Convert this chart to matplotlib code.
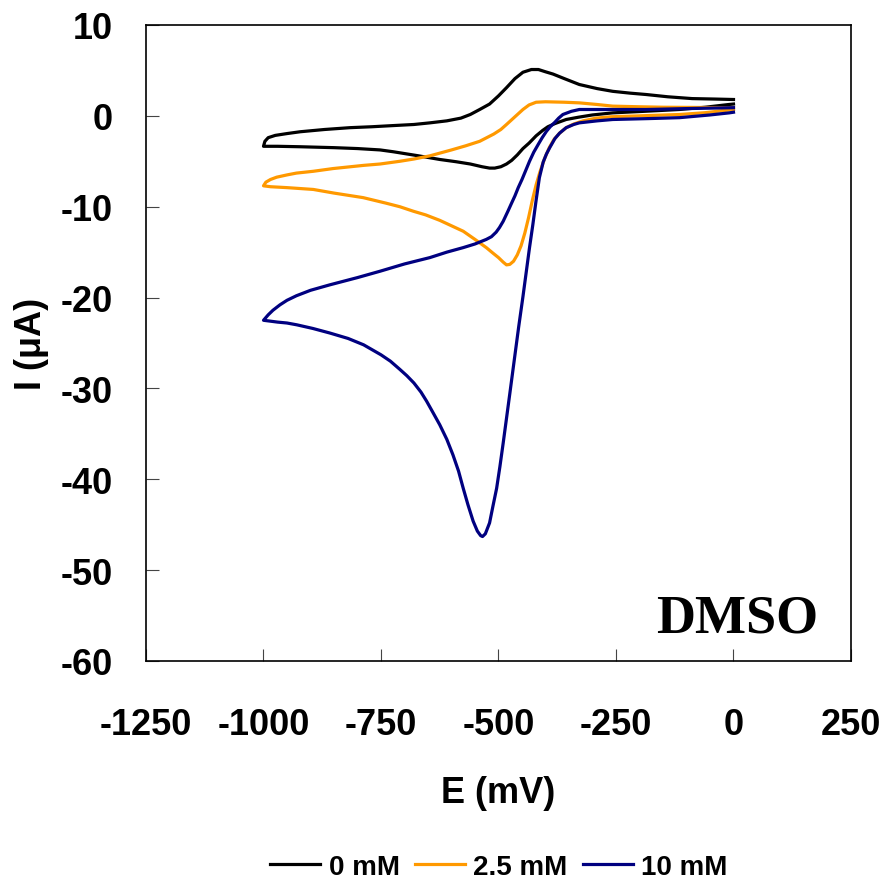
import matplotlib
matplotlib.use("Agg")
import matplotlib.pyplot as plt

# cyclic voltammograms in DMSO
# E in mV, I in uA; each list is one closed scan loop
e_0mM = [0, -10, -60, -115, -190, -257, -300, -330, -356, -380, -395, -406, -420,
         -435, -448, -460, -472, -483, -495, -508, -519, -535, -560, -590, -625,
         -670, -724, -752, -800, -850, -922, -970, -1000,
         -997, -990, -975, -950, -922, -870, -816, -770, -724, -680, -646, -610,
         -580, -560, -540, -519, -500, -483, -465, -448, -430, -415, -400, -384,
         -360, -328, -290, -257, -220, -186, -140, -88, -40, 0]
i_0mM = [1.3, 1.25, 0.95, 0.7, 0.5, 0.33, 0.1, -0.15, -0.4, -0.85, -1.2, -1.6, -2.2,
         -3.0, -3.6, -4.3, -4.9, -5.3, -5.6, -5.75, -5.75, -5.6, -5.3, -5.05, -4.8,
         -4.4, -3.95, -3.75, -3.6, -3.5, -3.4, -3.35, -3.35,
         -2.8, -2.4, -2.15, -1.95, -1.75, -1.5, -1.3, -1.2, -1.07, -0.95, -0.77, -0.55,
         -0.25, 0.15, 0.7, 1.3, 2.2, 3.1, 4.1, 4.8, 5.1, 5.1, 4.85, 4.6,
         4.1, 3.45, 3.0, 2.7, 2.5, 2.35, 2.1, 1.9, 1.85, 1.8]

e_2p5mM = [0, -60, -115, -200, -260, -292, -320, -340, -356, -370, -382, -392, -402,
           -412, -420, -428, -436, -444, -452, -460, -468, -476, -483, -490, -500,
           -512, -526, -550, -575, -600, -625, -655, -681, -710, -740, -788, -850,
           -894, -950, -985, -1000,
           -995, -985, -972, -950, -930, -894, -852, -787, -752, -710, -680, -646,
           -600, -570, -540, -510, -495, -483, -465, -448, -435, -420, -400, -360,
           -328, -290, -257, -200, -150, 0]
i_2p5mM = [0.7, 0.35, 0.15, 0.0, -0.1, -0.25, -0.55, -0.9, -1.3, -1.9, -2.6, -3.5, -4.7,
           -6.2, -7.6, -9.3, -11.2, -12.9, -14.3, -15.3, -16.0, -16.35, -16.4, -16.1, -15.6,
           -15.1, -14.5, -13.6, -12.7, -12.1, -11.5, -10.9, -10.5, -10.0, -9.6, -9.0, -8.5,
           -8.1, -7.9, -7.8, -7.7,
           -7.3, -7.0, -6.75, -6.5, -6.3, -6.1, -5.8, -5.45, -5.3, -5.0, -4.75, -4.4,
           -3.75, -3.3, -2.8, -2.0, -1.5, -0.95, -0.1, 0.7, 1.2, 1.5, 1.55, 1.5,
           1.43, 1.25, 1.07, 1.0, 0.95, 0.9]

e_10mM = [0, -100, -186, -280, -328, -345, -363, -372, -380, -390, -398, -407, -415,
          -425, -434, -442, -450, -458, -465, -473, -480, -490, -498, -505, -515,
          -526, -550, -575, -610, -646, -700, -752, -800, -859, -900, -930, -950,
          -965, -980, -990, -1000,
          -985, -970, -950, -929, -895, -859, -820, -787, -750, -730, -710, -695,
          -680, -665, -653, -640, -625, -610, -597, -585, -575, -565, -554, -545,
          -538, -534, -528, -519, -512, -504, -497, -490, -483, -476, -466, -457,
          -448, -441, -434, -427, -420, -413, -405, -398, -391, -380, -370, -356,
          -340, -328, -290, -257, -180, -115, -50, -9, 0]
i_10mM = [0.9, 0.8, 0.7, 0.7, 0.7, 0.5, 0.15, -0.25, -0.7, -1.2, -1.7, -2.4, -3.1,
          -4.0, -5.0, -6.0, -7.0, -7.9, -8.8, -9.7, -10.5, -11.6, -12.3, -12.8, -13.3,
          -13.6, -14.1, -14.5, -15.0, -15.6, -16.3, -17.1, -17.8, -18.6, -19.2, -19.8, -20.3,
          -20.8, -21.4, -21.9, -22.5,
          -22.6, -22.7, -22.8, -23.0, -23.4, -23.9, -24.5, -25.2, -26.3, -27.0, -27.9, -28.6,
          -29.4, -30.4, -31.4, -32.6, -34.0, -35.6, -37.3, -39.1, -41.0, -42.8, -44.6, -45.7,
          -46.2, -46.3, -46.0, -44.8, -43.0, -41.0, -38.6, -36.0, -33.3, -30.6, -26.7, -23.2,
          -19.9, -17.2, -14.5, -12.0, -9.3, -6.8, -5.1, -4.2, -3.5, -2.5, -1.9, -1.3,
          -0.95, -0.77, -0.55, -0.4, -0.3, -0.2, 0.1, 0.33, 0.4]

labels = ["0 mM", "2.5 mM", "10 mM"]
colors = ["#000000", "#FF9900", "#000080"]

x_ticks = [-1250, -1000, -750, -500, -250, 0, 250]
y_ticks = [10, 0, -10, -20, -30, -40, -50, -60]

plt.rcParams["font.family"] = ["Liberation Sans", "DejaVu Sans"]
plt.rcParams["font.weight"] = "bold"
plt.rcParams["axes.unicode_minus"] = False

fig = plt.figure(figsize=(8.87, 8.87), dpi=100)
ax = fig.add_axes([146 / 887, 1 - 662 / 887, 705 / 887, 636 / 887])

for e, i, lab, col in zip([e_0mM, e_2p5mM, e_10mM], [i_0mM, i_2p5mM, i_10mM], labels, colors):
    ax.plot(e, i, color=col, lw=2.3, label=lab, solid_joinstyle="round")

ax.set_xlim(-1250, 250)
ax.set_ylim(-60, 10)
ax.set_xticks(x_ticks)
ax.set_yticks(y_ticks)
ax.tick_params(axis="both", direction="in", length=9, width=0.8, color="#444444",
               labelsize=26)
ax.tick_params(axis="x", pad=33)
ax.tick_params(axis="y", pad=24)
for sp in ax.spines.values():
    sp.set_linewidth(1.2)

ax.set_xlabel("E (mV)", fontsize=26, fontweight="bold", labelpad=24)
ax.set_ylabel("I (\u03bcA)", fontsize=26, fontweight="bold", labelpad=8)

ax.text(0.953, 0.047, "DMSO", transform=ax.transAxes, ha="right", va="baseline",
        fontsize=39, fontweight="bold", family="Liberation Serif")

handles, labs = ax.get_legend_handles_labels()
fig.legend(handles, labs, loc="center", bbox_to_anchor=(499 / 887, 1 - 868 / 887),
           ncol=3, frameon=False, fontsize=20, handlelength=1.8, handletextpad=0.3,
           columnspacing=0.55)

fig.savefig("out.png", dpi=100)
